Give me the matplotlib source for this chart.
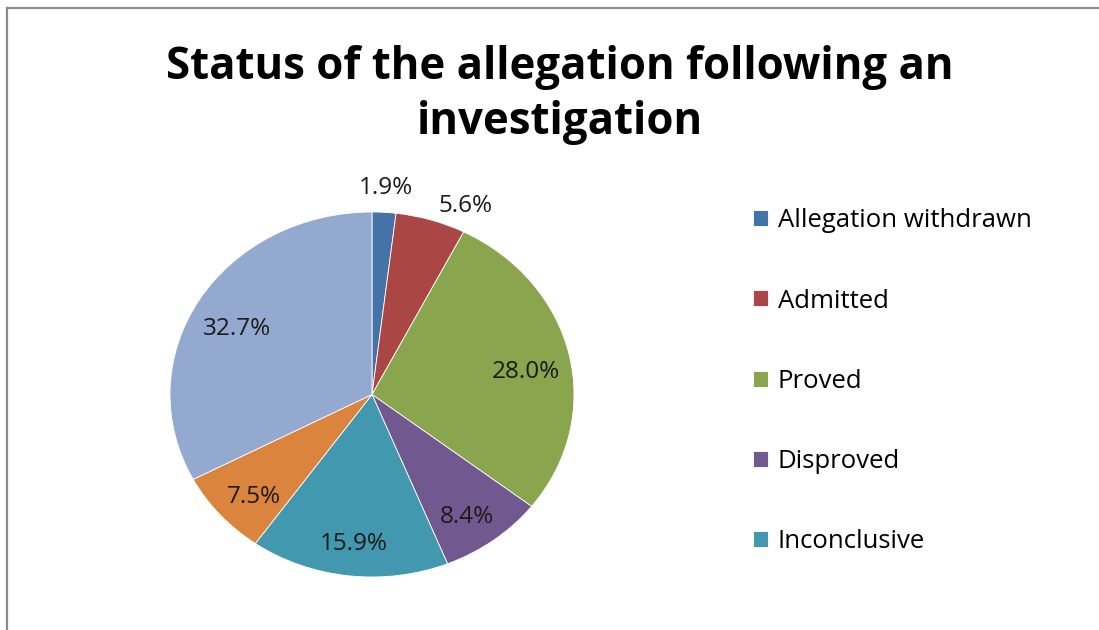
import matplotlib
matplotlib.use("Agg")
import matplotlib.pyplot as plt
from matplotlib.lines import Line2D
import numpy as np

plt.rcParams["font.family"] = ["Open Sans", "DejaVu Sans"]

# 数据
shares = [1.9, 5.6, 28.0, 8.4, 15.9, 7.5, 32.7]
legend_labels = ["Allegation withdrawn", "Admitted", "Proved", "Disproved", "Inconclusive"]
title = "Status of the allegation following an\ninvestigation"

COLORS = ["#4572A7", "#AA4643", "#89A54E", "#71588F", "#4198AF", "#DB843D", "#93A9CF"]

W, H = 1099, 630
fig = plt.figure(figsize=(W / 100, H / 100), dpi=100)

# grey frame: only top and left edges are visible in the screenshot
fy = (H - 8) / H
fx = 7 / W
fig.add_artist(Line2D([fx, 1.01], [fy, fy], transform=fig.transFigure, color="#8c8c8c", linewidth=1.6))
fig.add_artist(Line2D([fx, fx], [-0.01, fy], transform=fig.transFigure, color="#8c8c8c", linewidth=1.6))

# pie is slightly stretched horizontally in the original
x0, x1, y_top, y_bot = 170, 574, 212, 577
ax = fig.add_axes([x0 / W, (H - y_bot) / H, (x1 - x0) / W, (y_bot - y_top) / H])
wedges, _ = ax.pie(shares, colors=COLORS, startangle=90, counterclock=False,
                   wedgeprops=dict(edgecolor="white", linewidth=0.6))
ax.set_aspect("auto")
ax.set_xlim(-1, 1)
ax.set_ylim(-1, 1)
ax.axis("off")

for w, v in zip(wedges, shares):
    ang = np.deg2rad((w.theta1 + w.theta2) / 2)
    c, s = np.cos(ang), np.sin(ang)
    if v < 6:
        # small slices: label outside the rim
        ha = "left" if c > 0.2 else "center"
        r = 1.13 if ha == "left" else 1.18
    else:
        ha, r = "center", 0.78
    ax.text(r * c, r * s - 0.03, f"{v:.1f}%", ha=ha, va="center_baseline",
            fontsize=17.5, color="#1a1a1a")

fig.text(560 / W, (H - 95) / H, title, ha="center", va="center", fontsize=31.5,
         fontweight="bold", color="black", linespacing=1.27)

fig.legend(wedges[:len(legend_labels)], legend_labels, loc="upper left",
           bbox_to_anchor=(743 / W, (H - 198) / H), frameon=False, fontsize=18.5,
           handlelength=0.58, handleheight=0.58, handletextpad=0.38,
           labelspacing=2.15, borderaxespad=0)

fig.savefig("out.png", dpi=100, facecolor="white")
